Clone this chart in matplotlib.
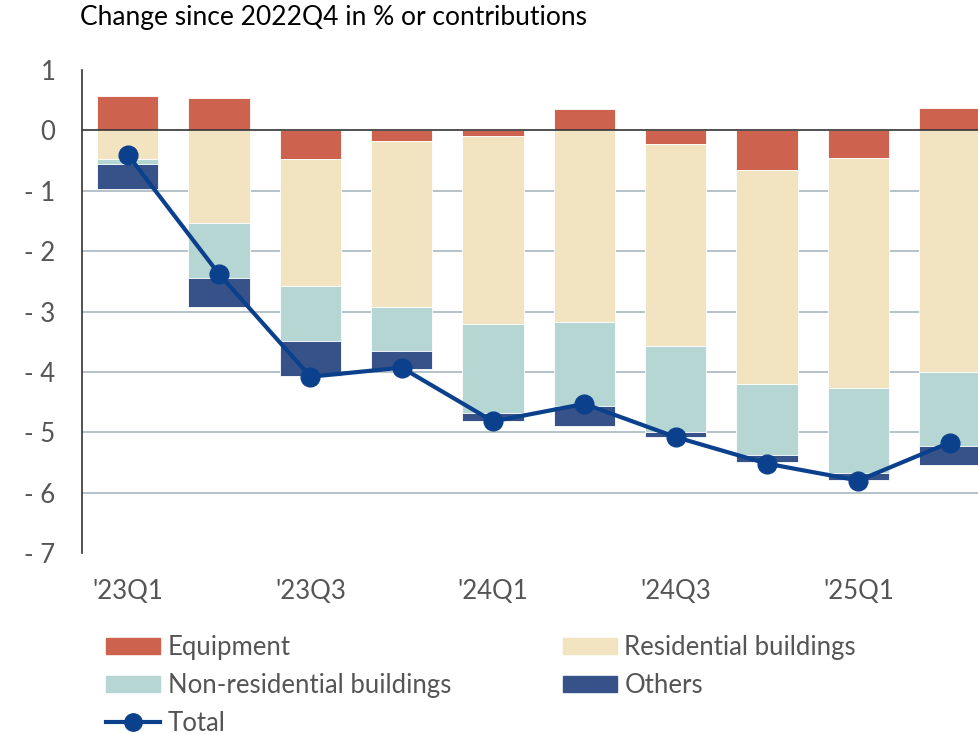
import matplotlib
matplotlib.use("Agg")
import matplotlib.pyplot as plt
import numpy as np
from matplotlib.lines import Line2D
from matplotlib.patches import Patch

# --- dados ---
quarters = ["'23Q1", "'23Q2", "'23Q3", "'23Q4", "'24Q1",
            "'24Q2", "'24Q3", "'24Q4", "'25Q1", "'25Q2"]
equipment = [0.57, 0.53, -0.47, -0.17, -0.10, 0.35, -0.22, -0.65, -0.45, 0.37]
residential = [-0.47, -1.53, -2.10, -2.75, -3.10, -3.17, -3.35, -3.55, -3.82, -4.00]
non_residential = [-0.08, -0.92, -0.92, -0.73, -1.48, -1.40, -1.43, -1.18, -1.40, -1.22]
others = [-0.42, -0.47, -0.58, -0.30, -0.13, -0.33, -0.08, -0.12, -0.12, -0.32]
total = [-0.40, -2.38, -4.08, -3.93, -4.82, -4.53, -5.08, -5.52, -5.80, -5.17]

series = [
    ("Equipment", equipment, "#CD634F"),
    ("Residential buildings", residential, "#F2E4C0"),
    ("Non-residential buildings", non_residential, "#B6D6D3"),
    ("Others", others, "#375288"),
]
LINE_BLUE = "#0B418C"
TXT = "#555555"

plt.rcParams["font.family"] = ["Lato", "DejaVu Sans"]

fig = plt.figure(figsize=(9.79, 7.34), dpi=100)
ax = fig.add_axes([82 / 979, 1 - 553 / 734, 1 - 82 / 979, (553 - 70) / 734])

x = np.arange(len(quarters))
pos_base = np.zeros(len(x))
neg_base = np.zeros(len(x))
for name, vals, col in series:
    v = np.array(vals)
    bottom = np.where(v >= 0, pos_base, neg_base)
    ax.bar(x, v, bottom=bottom, width=0.67, color=col,
           edgecolor="white", linewidth=0.6, zorder=3)
    pos_base += np.where(v >= 0, v, 0)
    neg_base += np.where(v < 0, v, 0)

ax.plot(x, total, color=LINE_BLUE, lw=3, marker="o", ms=13.5, zorder=5)

# grade horizontal e linha do zero
for g in range(-6, 0):
    ax.axhline(g, color="#A9B8C0", lw=1.2, zorder=1)
ax.axhline(0, color="#333333", lw=1.2, zorder=4)

ax.set_xlim(-0.5, 9.32)
ax.set_ylim(-7, 1)
ax.set_yticks(range(-7, 2))
ax.set_yticklabels([f"- {abs(t)}" if t < 0 else str(t) for t in range(-7, 2)])
ax.set_xticks(x[::2])
ax.set_xticklabels(quarters[::2])
ax.tick_params(axis="both", length=0, labelsize=18.5, labelcolor=TXT)
ax.tick_params(axis="y", pad=19)
ax.tick_params(axis="x", pad=19)

for s in ["top", "right", "bottom"]:
    ax.spines[s].set_visible(False)
ax.spines["left"].set_color("#333333")
ax.spines["left"].set_linewidth(1.2)

fig.text(80 / 979, 1 - 18 / 734, "Change since 2022Q4 in % or contributions",
         fontsize=19, color="black", va="center", ha="left")

handles = [
    Patch(color=series[0][2]),
    Patch(color=series[2][2]),
    Line2D([], [], color=LINE_BLUE, lw=3, marker="o", ms=12.5),
    Patch(color=series[1][2]),
    Patch(color=series[3][2]),
]
labels = ["Equipment", "Non-residential buildings", "Total",
          "Residential buildings", "Others"]
fig.legend(handles, labels, ncol=2, loc="upper left",
           bbox_to_anchor=(106 / 979, 1 - 635 / 734), frameon=False,
           fontsize=18.5, labelcolor=TXT, handlelength=2.1, handleheight=0.6,
           handletextpad=0.3, labelspacing=0.5, columnspacing=4.35,
           borderpad=0, borderaxespad=0)

fig.savefig("out.png", dpi=100)
